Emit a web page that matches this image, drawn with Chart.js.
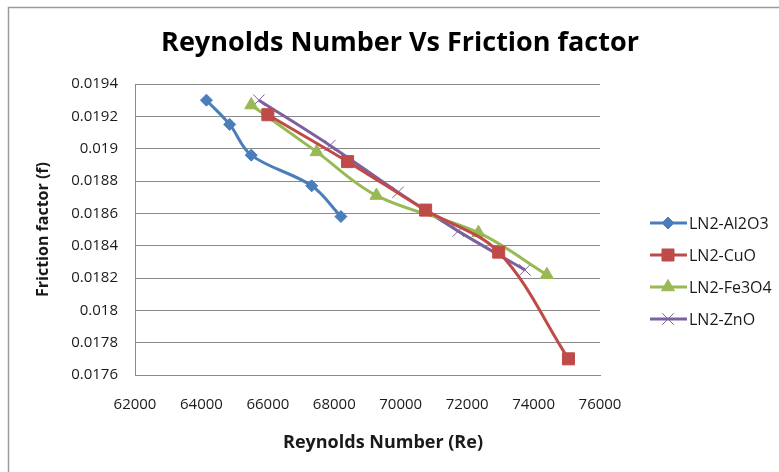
<!DOCTYPE html>
<html>
<head>
<meta charset="utf-8">
<script src="https://cdn.jsdelivr.net/npm/chart.js@4.4.1/dist/chart.umd.min.js"></script>
<style>
  html, body { margin: 0; padding: 0; background: #fff; }
  #wrap { width: 779px; height: 472px; position: relative; }
</style>
</head>
<body>
<div id="wrap"><canvas id="myChart" width="779" height="472"></canvas></div>
<script>
// datos
const chartTitle = "Reynolds Number Vs Friction factor";
const xTitle = "Reynolds Number (Re)";
const yTitle = "Friction factor (f)";
const seriesNames = ["LN2-Al2O3", "LN2-CuO", "LN2-Fe3O4", "LN2-ZnO"];

const al2o3Re = [64150, 64850, 65500, 67320, 68200];
const al2o3F = [0.0193, 0.01915, 0.01896, 0.01877, 0.01858];

const cuoRe = [66000, 68400, 70750, 72950, 75050];
const cuoF = [0.01921, 0.01892, 0.01862, 0.01836, 0.0177];

const fe3o4Re = [65500, 67470, 69270, 72340, 74400];
const fe3o4F = [0.01927, 0.01898, 0.01871, 0.01848, 0.01822];

const znoRe = [65730, 67870, 69920, 71730, 73740];
const znoF = [0.0193, 0.01902, 0.01873, 0.01849, 0.01825];

const xTicks = [62000, 64000, 66000, 68000, 70000, 72000, 74000, 76000];
const yTicks = [0.0176, 0.0178, 0.018, 0.0182, 0.0184, 0.0186, 0.0188, 0.019, 0.0192, 0.0194];

const toPoints = (xs, ys) => xs.map((x, i) => ({ x: x, y: ys[i] }));

const fontFamily = "'Open Sans', 'Liberation Sans', sans-serif";
const gridColor = "#8a8a8a";

const serie = (label, pts, color, style, radius) => ({
  label: label,
  data: pts,
  showLine: true,
  borderColor: color,
  backgroundColor: color,
  borderWidth: 3,
  tension: 0.35,
  pointStyle: style,
  pointRadius: radius,
  pointHoverRadius: radius,
  pointBackgroundColor: color,
  pointBorderColor: color,
  pointBorderWidth: 1,
});

// titulos centrados como en Excel (no sobre el area del grafico)
const titulos = {
  id: "titulos",
  afterDraw(chart) {
    const { ctx } = chart;
    ctx.save();
    ctx.textAlign = "center";
    ctx.textBaseline = "middle";
    ctx.fillStyle = "#000";
    ctx.font = "bold 27px " + fontFamily;
    ctx.fillText(chartTitle, 400, 43);
    ctx.fillStyle = "#1a1a1a";
    ctx.font = "bold 18px " + fontFamily;
    ctx.fillText(xTitle, 383, 443);
    ctx.restore();
  },
};

// leyenda a la derecha, linea + marcador como en Excel
const legendExcel = {
  id: "legendExcel",
  afterDraw(chart) {
    const { ctx } = chart;
    ctx.save();
    chart.data.datasets.forEach((ds, i) => {
      const y = 223 + i * 32;
      ctx.strokeStyle = ds.borderColor;
      ctx.lineWidth = 3;
      ctx.beginPath();
      ctx.moveTo(650, y);
      ctx.lineTo(687, y);
      ctx.stroke();
      ctx.fillStyle = ds.pointBackgroundColor;
      ctx.strokeStyle = ds.pointBorderColor;
      ctx.lineWidth = ds.pointBorderWidth;
      Chart.helpers.drawPoint(ctx, {
        pointStyle: ds.pointStyle,
        radius: ds.pointRadius,
        borderWidth: ds.pointBorderWidth,
        rotation: 0,
      }, 668, y);
      ctx.fillStyle = "#1a1a1a";
      ctx.font = "16px " + fontFamily;
      ctx.textBaseline = "middle";
      ctx.textAlign = "left";
      ctx.fillText(ds.label, 689, y + 1);
    });
    ctx.restore();
  },
};

// marco exterior gris
const marco = {
  id: "marco",
  beforeDraw(chart) {
    const { ctx } = chart;
    ctx.save();
    ctx.fillStyle = "#fff";
    ctx.fillRect(0, 0, chart.width, chart.height);
    ctx.strokeStyle = "#9a9a9a";
    ctx.lineWidth = 1.5;
    ctx.strokeRect(8.5, 7.5, 790, 500);
    ctx.restore();
  },
};

const config = {
  type: "scatter",
  data: {
    datasets: [
      serie(seriesNames[0], toPoints(al2o3Re, al2o3F), "#4A7EBB", "rectRot", 6),
      serie(seriesNames[1], toPoints(cuoRe, cuoF), "#BE4B48", "rect", 8.5),
      serie(seriesNames[2], toPoints(fe3o4Re, fe3o4F), "#98B954", "triangle", 7.5),
      serie(seriesNames[3], toPoints(znoRe, znoF), "#7D60A0", "crossRot", 8),
    ],
  },
  options: {
    responsive: false,
    animation: false,
    layout: {
      padding: { left: 10, right: 179, top: 84, bottom: 7 },
    },
    scales: {
      x: {
        type: "linear",
        min: 62000,
        max: 76000,
        afterBuildTicks: (scale) => {
          scale.ticks = xTicks.map((v) => ({ value: v }));
        },
        afterFit: (scale) => {
          scale.height = 90;
        },
        grid: { display: false, drawTicks: false },
        border: { display: true, color: gridColor, width: 1 },
        ticks: {
          padding: 21,
          color: "#1a1a1a",
          font: { family: fontFamily, size: 15 },
          callback: (v) => String(v),
        },
        title: { display: false },
      },
      y: {
        type: "linear",
        min: 0.0176,
        max: 0.0194,
        afterBuildTicks: (scale) => {
          scale.ticks = yTicks.map((v) => ({ value: v }));
        },
        afterFit: (scale) => {
          scale.width = 125;
        },
        grid: { color: gridColor, lineWidth: 1, drawTicks: false },
        border: { display: true, color: gridColor, width: 1 },
        ticks: {
          padding: 17,
          color: "#1a1a1a",
          font: { family: fontFamily, size: 15 },
          callback: (v) => String(Number(v.toFixed(4))),
        },
        title: {
          display: true,
          text: yTitle,
          color: "#1a1a1a",
          font: { family: fontFamily, size: 16, weight: "bold" },
          padding: { top: 24, bottom: 0 },
        },
      },
    },
    plugins: {
      legend: { display: false },
      tooltip: { enabled: false },
      title: { display: false },
    },
  },
  plugins: [marco, titulos, legendExcel],
};

const ctx = document.getElementById("myChart");
new Chart(ctx, config);
</script>
</body>
</html>
